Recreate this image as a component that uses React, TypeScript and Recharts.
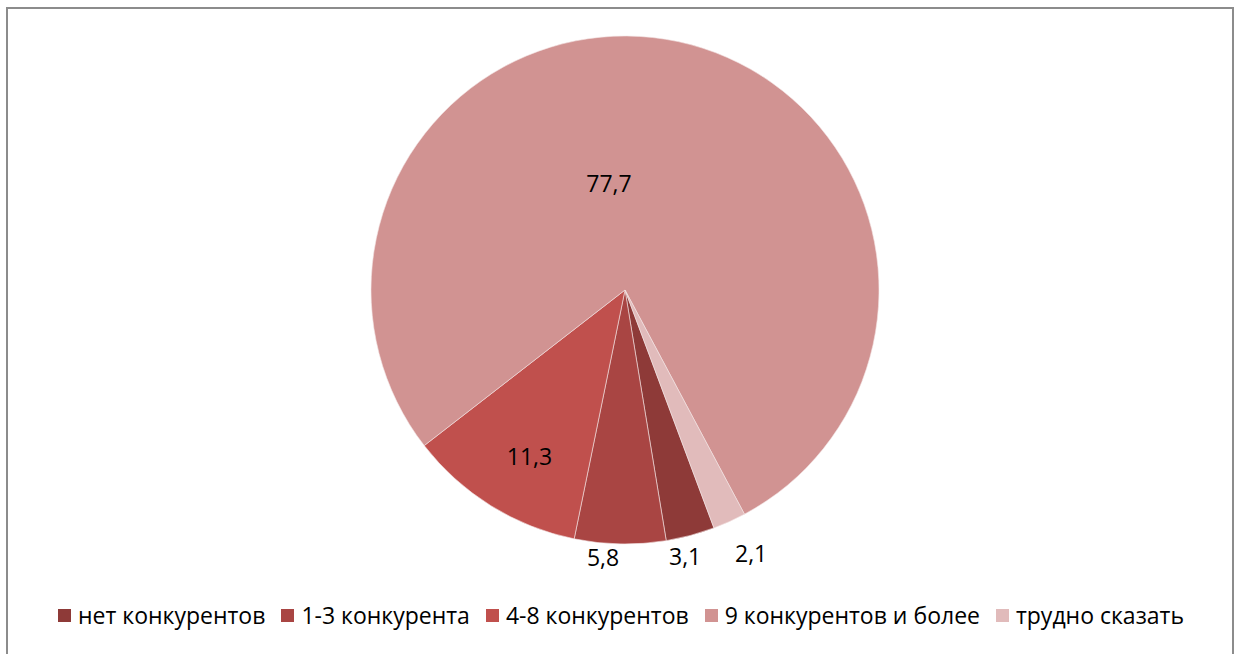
import React from "react";
import { PieChart, Pie, Cell } from "recharts";

const categories = ["нет конкурентов", "1-3 конкурента", "4-8 конкурентов", "9 конкурентов и более", "трудно сказать"];
const values = [3.1, 5.8, 11.3, 77.7, 2.1];
const valueLabels = ["3,1", "5,8", "11,3", "77,7", "2,1"];
const colors = ["#8E3A38", "#A94543", "#C0504D", "#D19392", "#E1BBBB"];

const labelRadius = [1.075, 1.055, 0.755, 0.425, 1.15];
const labelAngleShift = [-2.2, -3.6, 2, 20.6, 1.3];

const data = categories.map((name, i) => ({ name, value: values[i], label: valueLabels[i] }));

const RAD = Math.PI / 180;
const FONT = "'Open Sans', 'Noto Sans', sans-serif";

const renderLabel = (props: any) => {
  const { cx, cy, midAngle, outerRadius, index } = props;
  const a = (midAngle + labelAngleShift[index]) * RAD;
  const r = outerRadius * labelRadius[index];
  const x = cx + r * Math.cos(a);
  const y = cy - r * Math.sin(a);
  return (
    <text x={x} y={y} textAnchor="middle" dominantBaseline="central" fontFamily={FONT} fontSize={23} fill="#000">
      {data[index].label}
    </text>
  );
};

export default function App() {
  return (
    <div style={{ position: "absolute", left: 0, top: 0, width: 1240, height: 654, background: "#fff" }}>
      <div style={{ position: "absolute", left: 6, top: 7, width: 1228, height: 650, border: "2px solid #8c8c8c", boxSizing: "border-box" }} />
      <div style={{ position: "absolute", left: 0, top: 0 }}>
        <PieChart width={1240} height={654} margin={{ top: 0, right: 0, bottom: 0, left: 0 }}>
          <Pie
            data={data}
            dataKey="value"
            nameKey="name"
            cx={625}
            cy={290}
            outerRadius={254}
            startAngle={-69.5}
            endAngle={-429.5}
            stroke="#f4e4e4"
            strokeWidth={0.6}
            label={renderLabel}
            labelLine={false}
            isAnimationActive={false}
          >
            {data.map((d, i) => (
              <Cell key={d.name} fill={colors[i]} />
            ))}
          </Pie>
        </PieChart>
      </div>
      <div style={{ position: "absolute", left: 0, top: 599, width: 1240, height: 32, display: "flex", justifyContent: "center", alignItems: "center", fontFamily: FONT, fontSize: 23, color: "#000", paddingLeft: 2, boxSizing: "border-box" }}>
        {categories.map((c, i) => (
          <div key={c} style={{ display: "flex", alignItems: "center", marginRight: i < categories.length - 1 ? 16 : 0 }}>
            <span style={{ display: "inline-block", width: 13, height: 13, background: colors[i], marginRight: 7 }} />
            <span>{c}</span>
          </div>
        ))}
      </div>
    </div>
  );
}
